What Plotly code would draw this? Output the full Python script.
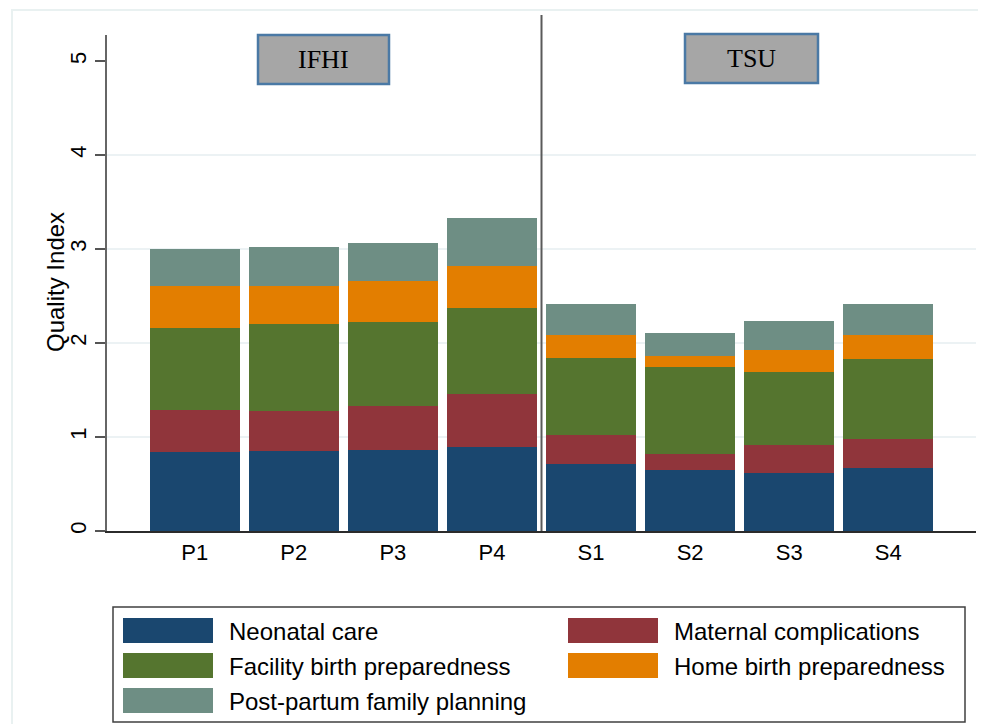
import plotly.graph_objects as go

categories = ["P1", "P2", "P3", "P4", "S1", "S2", "S3", "S4"]
series_names = ["Neonatal care", "Maternal complications", "Facility birth preparedness",
                "Home birth preparedness", "Post-partum family planning"]
neonatal = [0.84, 0.85, 0.865, 0.89, 0.71, 0.65, 0.62, 0.67]
maternal = [0.45, 0.43, 0.465, 0.57, 0.31, 0.17, 0.29, 0.31]
facility = [0.87, 0.92, 0.89, 0.91, 0.82, 0.92, 0.78, 0.85]
home = [0.45, 0.41, 0.44, 0.45, 0.24, 0.12, 0.24, 0.25]
postpartum = [0.39, 0.41, 0.40, 0.51, 0.33, 0.25, 0.30, 0.34]
group_labels = ["IFHI", "TSU"]
y_ticks = [0, 1, 2, 3, 4, 5]
y_title = "Quality Index"

colors = ["#1a476f", "#90353b", "#55752f", "#e37e00", "#6e8e84"]
values = [neonatal, maternal, facility, home, postpartum]

OFF = 8  # page body margin
W, H = 986, 724
L, R, T, B = 99, 18, 27, 201
PW, PH = W - L - R, H - T - B


def px(X):
    return (X - OFF - L) / PW


def py(Y):
    return (H - B - (Y - OFF)) / PH


fig = go.Figure()
for name, vals, col in zip(series_names, values, colors):
    fig.add_trace(go.Bar(x=categories, y=vals, name=name, marker=dict(color=col, line=dict(width=0)),
                         showlegend=False))

shapes = []
annotations = []

# outer frame
shapes.append(dict(type="rect", xref="paper", yref="paper", x0=px(12), x1=px(1100), y0=py(10), y1=py(800),
                   line=dict(color="#e9f1f1", width=2), fillcolor="rgba(0,0,0,0)", layer="below"))
# gridlines
for g in [1, 2, 3, 4]:
    shapes.append(dict(type="line", xref="paper", yref="y", x0=0, x1=1, y0=g, y1=g,
                       line=dict(color="#e6eef1", width=1.5), layer="below"))
# divider
shapes.append(dict(type="line", xref="x", yref="paper", x0=3.5, x1=3.5, y0=0, y1=py(15),
                   line=dict(color="#5a5a5a", width=2)))
# group boxes
boxes = [(258, 389, 35, 84), (685, 818, 34, 83)]
for (x0, x1, y0, y1), lab in zip(boxes, group_labels):
    shapes.append(dict(type="rect", xref="paper", yref="paper", x0=px(x0), x1=px(x1), y0=py(y1), y1=py(y0),
                       fillcolor="#a6a6a6", line=dict(color="#4a79a5", width=2.5)))
    annotations.append(dict(xref="paper", yref="paper", x=px((x0 + x1) / 2), y=py((y0 + y1) / 2),
                            text=lab, showarrow=False, xanchor="center", yanchor="middle",
                            font=dict(family="Liberation Serif", size=26, color="black")))

# y title
annotations.append(dict(xref="paper", yref="paper", x=px(55), y=py(282), text=y_title, textangle=-90,
                        showarrow=False, xanchor="center", yanchor="middle",
                        font=dict(family="Liberation Sans", size=24, color="black")))

# custom legend
shapes.append(dict(type="rect", xref="paper", yref="paper", x0=px(113), x1=px(965), y0=py(722), y1=py(607),
                   line=dict(color="#404040", width=1.5), fillcolor="white"))
leg_pos = [(123, 618), (568, 618), (123, 653), (568, 653), (123, 688)]
for (lx, ly), name, col in zip(leg_pos, series_names, colors):
    shapes.append(dict(type="rect", xref="paper", yref="paper", x0=px(lx), x1=px(lx + 90),
                       y0=py(ly + 25), y1=py(ly), fillcolor=col, line=dict(width=0)))
    annotations.append(dict(xref="paper", yref="paper", x=px(lx + 104), y=py(ly + 13), text=name,
                            showarrow=False, xanchor="left", yanchor="middle",
                            font=dict(family="Liberation Sans", size=24, color="black")))

fig.update_layout(
    width=W, height=H,
    margin=dict(l=L, r=R, t=T, b=B, autoexpand=False),
    barmode="stack", bargap=0.09,
    plot_bgcolor="white", paper_bgcolor="white",
    font=dict(family="Liberation Sans", color="black"),
    shapes=shapes, annotations=annotations,
    xaxis=dict(range=[-0.885, 7.885], showgrid=False, showline=True, linecolor="#2b2b2b", linewidth=1.5,
               ticks="outside", ticklen=1, tickcolor="rgba(0,0,0,0)",
               tickfont=dict(size=22, color="black"), automargin=False),
    yaxis=dict(range=[0, 5.277], tickvals=y_ticks, showgrid=False, zeroline=False,
               showline=True, linecolor="#666666", linewidth=1.5,
               ticks="outside", ticklen=10, tickcolor="#555555", tickwidth=1.5, tickangle=-90,
               tickfont=dict(size=22, color="black"),
               automargin=False),
)

fig.write_html("out.html")
